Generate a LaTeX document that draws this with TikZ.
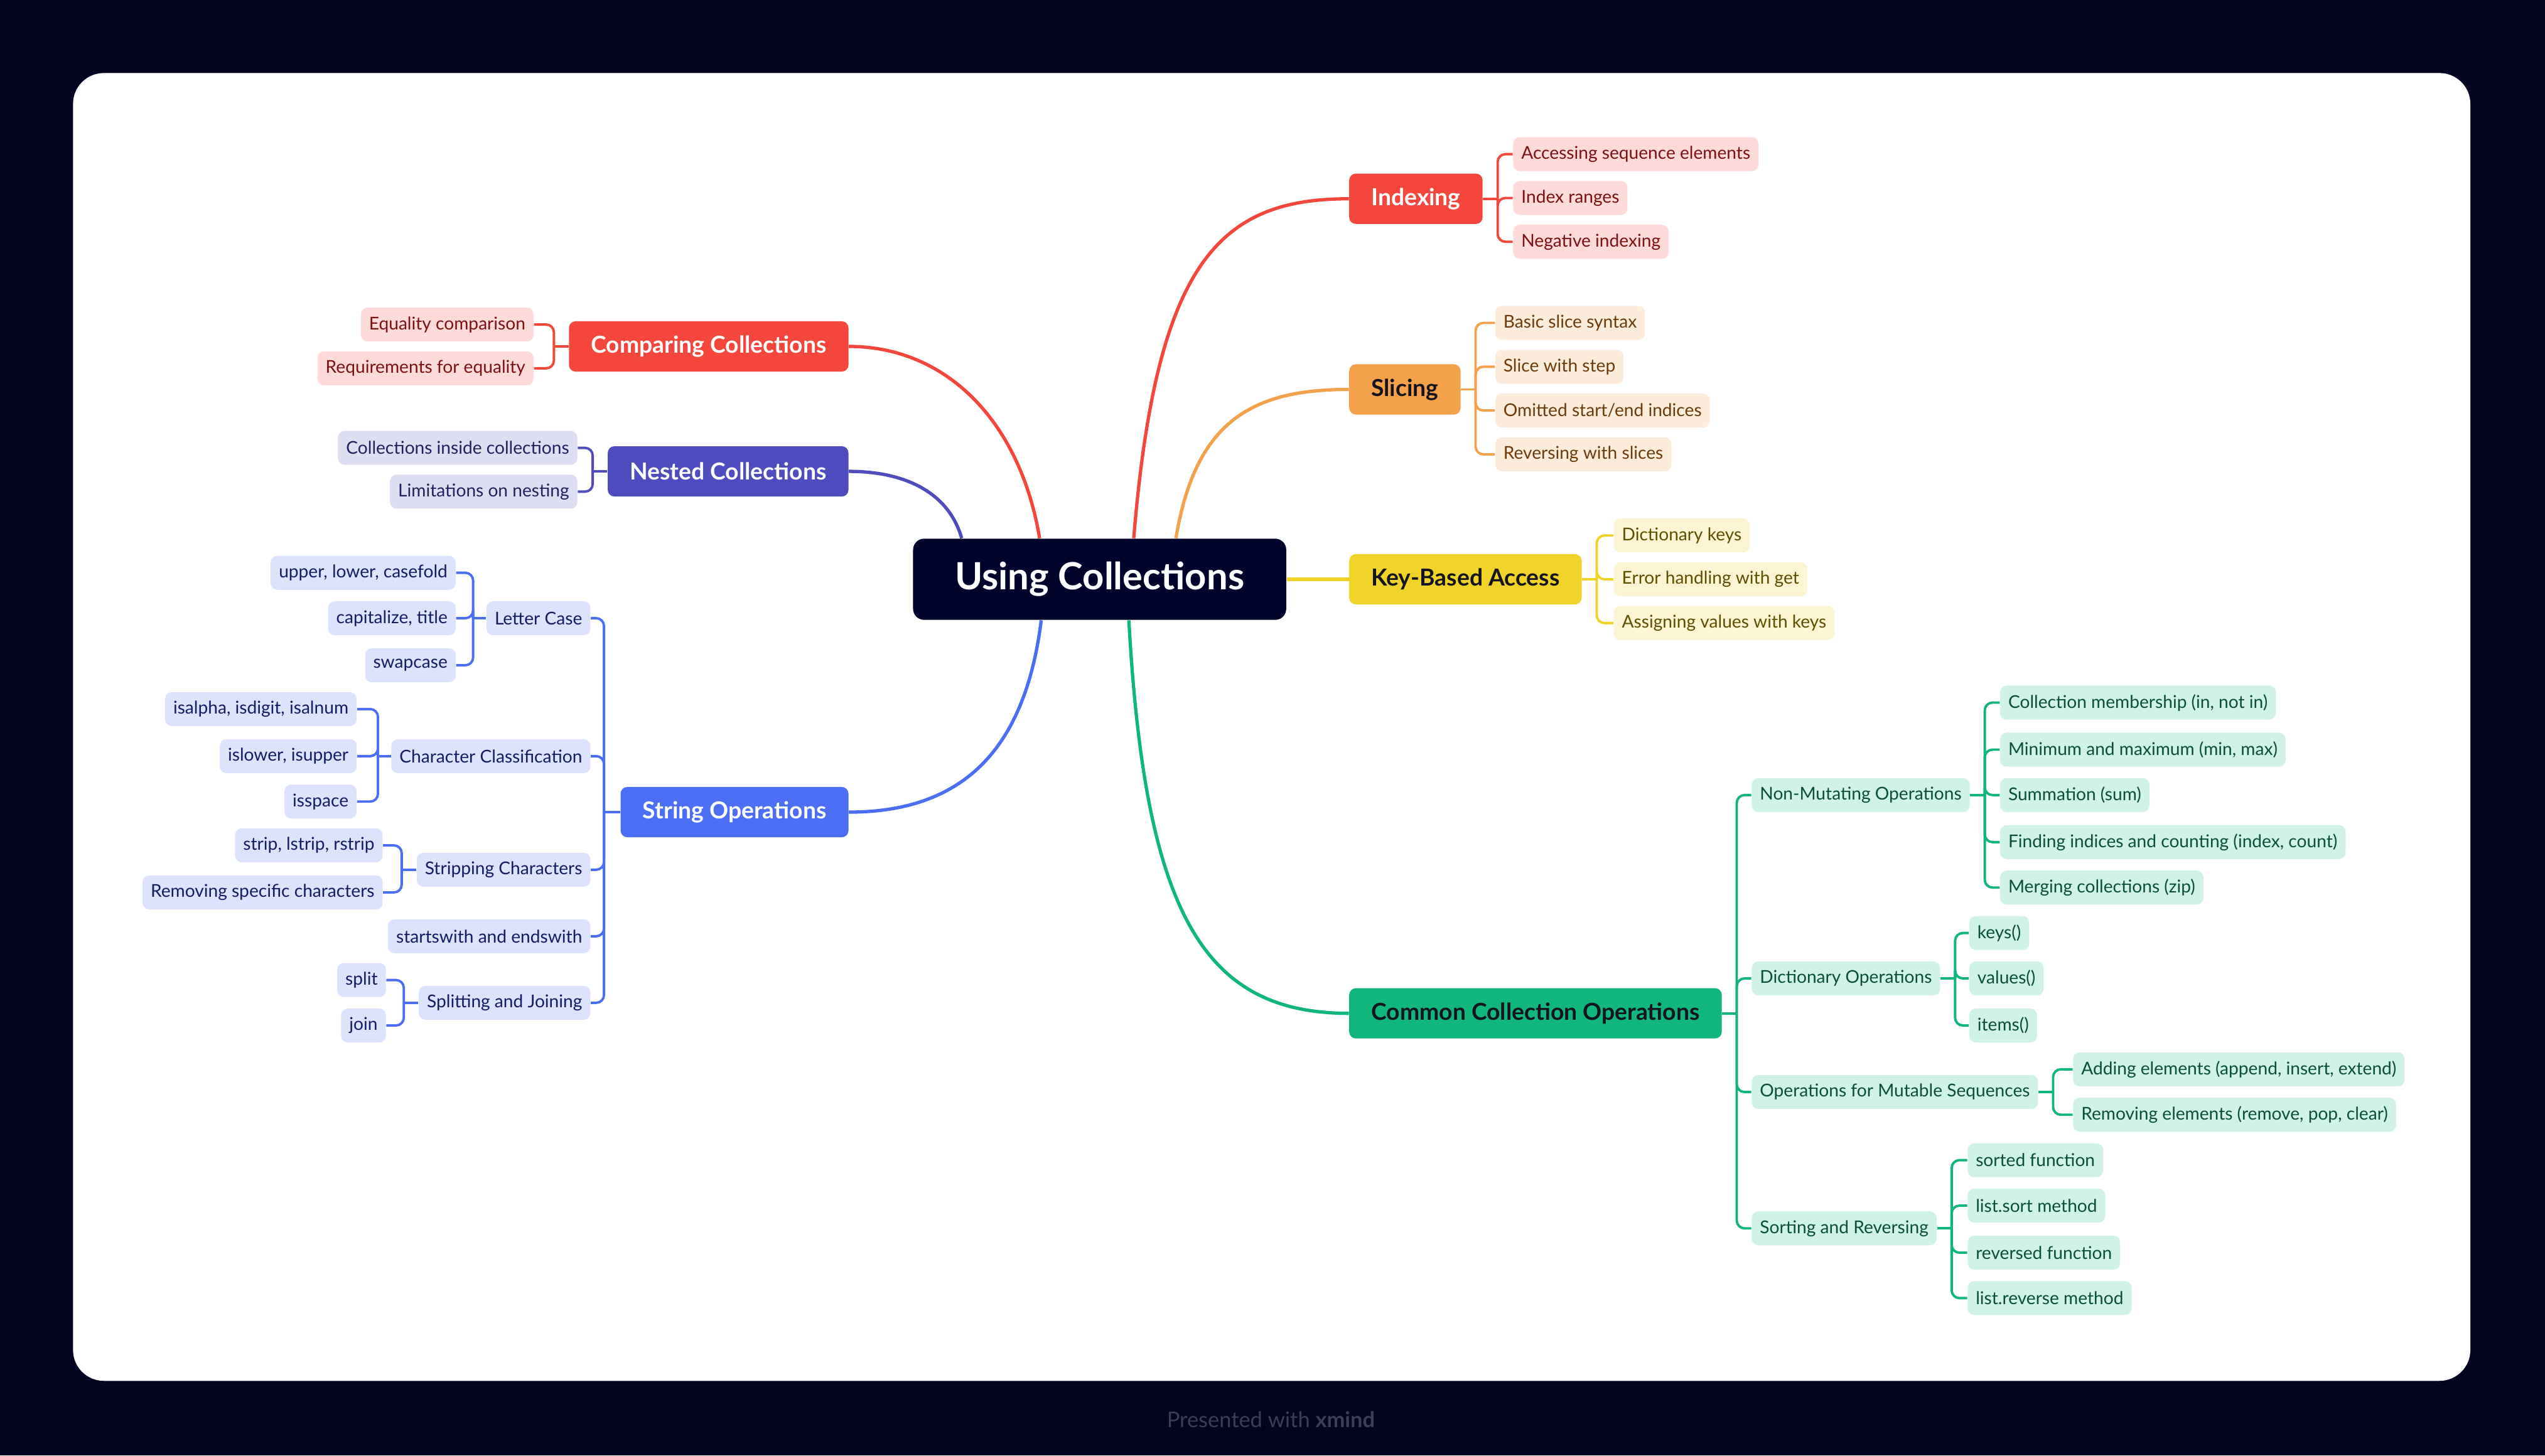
\documentclass[tikz,border=0pt]{standalone}
\usepackage{fontspec}
\setmainfont{Lato}
\usepackage{tikz}
\usetikzlibrary{calc}

\definecolor{bgnavy}{HTML}{03031F}
\definecolor{rootnavy}{HTML}{02032A}
\definecolor{footgray}{HTML}{3D3D58}
\definecolor{darktext}{HTML}{14141E}
\definecolor{redmain}{HTML}{F4463D}
\definecolor{redlight}{HTML}{FEDBDA}
\definecolor{redtext}{HTML}{7D1111}
\definecolor{orgmain}{HTML}{F3A14B}
\definecolor{orglight}{HTML}{FDEBDC}
\definecolor{orgtext}{HTML}{6E3A0C}
\definecolor{ylwmain}{HTML}{F0D328}
\definecolor{ylwlight}{HTML}{FCF5D4}
\definecolor{ylwtext}{HTML}{5E4E00}
\definecolor{grnmain}{HTML}{11B67D}
\definecolor{grnlight}{HTML}{D0F3E5}
\definecolor{grntext}{HTML}{0A4F36}
\definecolor{indmain}{HTML}{4F4CBF}
\definecolor{indlight}{HTML}{DEDEF3}
\definecolor{indtext}{HTML}{22205E}
\definecolor{blumain}{HTML}{4C6EF5}
\definecolor{blulight}{HTML}{DDE3FC}
\definecolor{blutext}{HTML}{141C66}

\begin{document}
\begin{tikzpicture}[x=0.02585cm,y=-0.02585cm]
\tikzstyle{central}=[rounded corners=5pt,fill=rootnavy,text=white,inner xsep=19pt,minimum height=36.8pt,font=\fontsize{17}{20}\selectfont\bfseries]
\tikzstyle{maintopic}=[rounded corners=3pt,inner xsep=10pt,minimum height=22.8pt,font=\fontsize{10.6}{12.5}\selectfont\bfseries]
\tikzstyle{subtopic}=[rounded corners=3pt,inner xsep=3.7pt,inner ysep=1pt,minimum height=15.4pt,font=\fontsize{8}{9.5}\selectfont]
\tikzstyle{redsub}=[subtopic,fill=redlight,text=redtext]
\tikzstyle{orgsub}=[subtopic,fill=orglight,text=orgtext]
\tikzstyle{ylwsub}=[subtopic,fill=ylwlight,text=ylwtext]
\tikzstyle{grnsub}=[subtopic,fill=grnlight,text=grntext]
\tikzstyle{indsub}=[subtopic,fill=indlight,text=indtext]
\tikzstyle{blusub}=[subtopic,fill=blulight,text=blutext]
\tikzstyle{curve}=[line width=1.5pt]
\tikzstyle{elbow}=[line width=1.1pt,rounded corners=3.5pt]

% backdrop and card
\fill[bgnavy] (0,0) rectangle (1568,897);
\fill[white,rounded corners=14pt] (45,45) rectangle (1522,851);
\node[text=footgray,font=\fontsize{9.8}{11}\selectfont] (foot) at (783,875) {Presented with \textbf{xmind}};

\node[central] (uc) at (677.5,357) {Using Collections};

% main topics
\node[maintopic,fill=redmain,text=white,anchor=west] (idx) at (831,122.5) {Indexing};
\node[maintopic,fill=orgmain,text=darktext,anchor=west] (slc) at (831,240) {Slicing};
\node[maintopic,fill=ylwmain,text=darktext,anchor=west] (key) at (831,357) {Key-Based Access};
\node[maintopic,fill=grnmain,text=darktext,anchor=west] (com) at (831,624.5) {Common Collection Operations};
\node[maintopic,fill=redmain,text=white,anchor=east] (cmp) at (523,213.5) {Comparing Collections};
\node[maintopic,fill=indmain,text=white,anchor=east] (nst) at (523,290.5) {Nested Collections};
\node[maintopic,fill=blumain,text=white,anchor=east] (str) at (523,500.5) {String Operations};

% right side
\node[redsub,anchor=west] (idx1) at (932,95) {Accessing sequence elements};
\node[redsub,anchor=west] (idx2) at (932,122) {Index ranges};
\node[redsub,anchor=west] (idx3) at (932,149) {Negative indexing};

\node[orgsub,anchor=west] (slc1) at (921,199) {Basic slice syntax};
\node[orgsub,anchor=west] (slc2) at (921,226) {Slice with step};
\node[orgsub,anchor=west] (slc3) at (921,253) {Omitted start/end indices};
\node[orgsub,anchor=west] (slc4) at (921,280) {Reversing with slices};

\node[ylwsub,anchor=west] (key1) at (994,330) {Dictionary keys};
\node[ylwsub,anchor=west] (key2) at (994,357) {Error handling with get};
\node[ylwsub,anchor=west] (key3) at (994,384) {Assigning values with keys};

\node[grnsub,anchor=west] (com1) at (1079,490) {Non-Mutating Operations};
\node[grnsub,anchor=west] (com2) at (1079,603) {Dictionary Operations};
\node[grnsub,anchor=west] (com3) at (1079,673) {Operations for Mutable Sequences};
\node[grnsub,anchor=west] (com4) at (1079,757) {Sorting and Reversing};

\node[grnsub,anchor=west] (nm1) at (1232,433) {Collection membership (in, not in)};
\node[grnsub,anchor=west] (nm2) at (1232,462) {Minimum and maximum (min, max)};
\node[grnsub,anchor=west] (nm3) at (1232,490) {Summation (sum)};
\node[grnsub,anchor=west] (nm4) at (1232,519) {Finding indices and counting (index, count)};
\node[grnsub,anchor=west] (nm5) at (1232,547) {Merging collections (zip)};

\node[grnsub,anchor=west] (dic1) at (1213,575) {keys()};
\node[grnsub,anchor=west] (dic2) at (1213,603) {values()};
\node[grnsub,anchor=west] (dic3) at (1213,632) {items()};

\node[grnsub,anchor=west] (mut1) at (1277,659) {Adding elements (append, insert, extend)};
\node[grnsub,anchor=west] (mut2) at (1277,687) {Removing elements (remove, pop, clear)};

\node[grnsub,anchor=west] (srt1) at (1212,715) {sorted function};
\node[grnsub,anchor=west] (srt2) at (1212,743) {list.sort method};
\node[grnsub,anchor=west] (srt3) at (1212,772) {reversed function};
\node[grnsub,anchor=west] (srt4) at (1212,800) {list.reverse method};

% left side
\node[redsub,anchor=east] (cmp1) at (329,200) {Equality comparison};
\node[redsub,anchor=east] (cmp2) at (329,227) {Requirements for equality};

\node[indsub,anchor=east] (nst1) at (356,276) {Collections inside collections};
\node[indsub,anchor=east] (nst2) at (356,303) {Limitations on nesting};

\node[blusub,anchor=east] (str1) at (364,381) {Letter Case};
\node[blusub,anchor=east] (str2) at (364,466) {Character Classification};
\node[blusub,anchor=east] (str3) at (364,536) {Stripping Characters};
\node[blusub,anchor=east] (str4) at (364,577) {startswith and endswith};
\node[blusub,anchor=east] (str5) at (364,618) {Splitting and Joining};

\node[blusub,anchor=east] (lc1) at (281,353) {upper, lower, casefold};
\node[blusub,anchor=east] (lc2) at (281,381) {capitalize, title};
\node[blusub,anchor=east] (lc3) at (281,410) {swapcase};

\node[blusub,anchor=east] (cc1) at (220,437) {isalpha, isdigit, isalnum};
\node[blusub,anchor=east] (cc2) at (220,466) {islower, isupper};
\node[blusub,anchor=east] (cc3) at (220,494) {isspace};

\node[blusub,anchor=east] (sc1) at (236,521) {strip, lstrip, rstrip};
\node[blusub,anchor=east] (sc2) at (236,550) {Removing specific characters};

\node[blusub,anchor=east] (sj1) at (238,604) {split};
\node[blusub,anchor=east] (sj2) at (238,632) {join};

% curves from the centre
\draw[curve,redmain] ($(uc.north)+(-37,0)$) .. controls +(-12,-72) and +(60,0) .. (cmp.east);
\draw[curve,indmain] ($(uc.north)+(-85,0)$) .. controls +(-8,-28) and +(35,0) .. (nst.east);
\draw[curve,redmain] ($(uc.north)+(21,0)$) .. controls +(14,-170) and +(-80,0) .. (idx.west);
\draw[curve,orgmain] ($(uc.north)+(47,0)$) .. controls +(12,-72) and +(-60,0) .. (slc.west);
\draw[curve,ylwmain] (uc.east) -- (key.west);
\draw[curve,grnmain] ($(uc.south)+(18,0)$) .. controls +(10,180) and +(-90,0) .. (com.west);
\draw[curve,blumain] ($(uc.south)+(-36,0)$) .. controls +(-10,80) and +(70,0) .. (str.east);

% elbows, right
\draw[elbow,redmain] (idx.east) -- ++(9,0) coordinate (idxb);
\foreach \n in {idx1,idx2,idx3} \draw[elbow,redmain] (idxb) |- (\n.west);
\draw[elbow,orgmain] (slc.east) -- ++(9,0) coordinate (slcb);
\foreach \n in {slc1,slc2,slc3,slc4} \draw[elbow,orgmain] (slcb) |- (\n.west);
\draw[elbow,ylwmain] (key.east) -- ++(9,0) coordinate (keyb);
\foreach \n in {key1,key2,key3} \draw[elbow,ylwmain] (keyb) |- (\n.west);
\draw[elbow,grnmain] (com.east) -- ++(9,0) coordinate (comb);
\foreach \n in {com1,com2,com3,com4} \draw[elbow,grnmain] (comb) |- (\n.west);
\draw[elbow,grnmain] (com1.east) -- ++(9,0) coordinate (nmb);
\foreach \n in {nm1,nm2,nm3,nm4,nm5} \draw[elbow,grnmain] (nmb) |- (\n.west);
\draw[elbow,grnmain] (com2.east) -- ++(9,0) coordinate (dicb);
\foreach \n in {dic1,dic2,dic3} \draw[elbow,grnmain] (dicb) |- (\n.west);
\draw[elbow,grnmain] (com3.east) -- ++(9,0) coordinate (mutb);
\foreach \n in {mut1,mut2} \draw[elbow,grnmain] (mutb) |- (\n.west);
\draw[elbow,grnmain] (com4.east) -- ++(9,0) coordinate (srtb);
\foreach \n in {srt1,srt2,srt3,srt4} \draw[elbow,grnmain] (srtb) |- (\n.west);

% elbows, left
\draw[elbow,redmain] (cmp.west) -- ++(-9,0) coordinate (cmpb);
\foreach \n in {cmp1,cmp2} \draw[elbow,redmain] (cmpb) |- (\n.east);
\draw[elbow,indmain] (nst.west) -- ++(-9,0) coordinate (nstb);
\foreach \n in {nst1,nst2} \draw[elbow,indmain] (nstb) |- (\n.east);
\draw[elbow,blumain] (str.west) -- ++(-10,0) coordinate (strb);
\foreach \n in {str1,str2,str3,str4,str5} \draw[elbow,blumain] (strb) |- (\n.east);
\draw[elbow,blumain] (str1.west) -- ++(-8,0) coordinate (lcb);
\foreach \n in {lc1,lc2,lc3} \draw[elbow,blumain] (lcb) |- (\n.east);
\draw[elbow,blumain] (str2.west) -- ++(-8,0) coordinate (ccb);
\foreach \n in {cc1,cc2,cc3} \draw[elbow,blumain] (ccb) |- (\n.east);
\draw[elbow,blumain] (str3.west) -- ++(-9,0) coordinate (scb);
\foreach \n in {sc1,sc2} \draw[elbow,blumain] (scb) |- (\n.east);
\draw[elbow,blumain] (str5.west) -- ++(-9,0) coordinate (sjb);
\foreach \n in {sj1,sj2} \draw[elbow,blumain] (sjb) |- (\n.east);
\end{tikzpicture}
\end{document}
